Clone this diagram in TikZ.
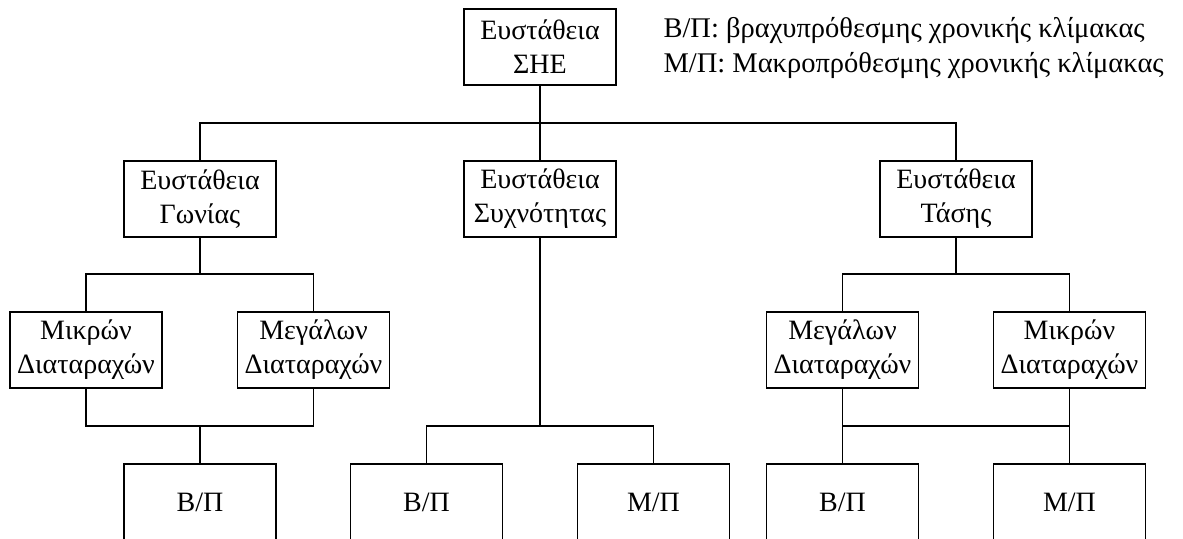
\documentclass[tikz,border=0pt]{standalone}
\usepackage{fontspec}
\setmainfont{Liberation Serif}
\begin{document}
\begin{tikzpicture}[x=1pt,y=-1pt,line width=1.1pt,
  box/.style={draw,line width=1.1pt,minimum width=152pt,minimum height=76pt,
    inner sep=0pt,align=center,font=\fontsize{28}{34}\selectfont},
  legendtext/.style={inner sep=0pt,anchor=base west,
    font=\fontsize{28.5}{35}\selectfont}]
\useasboundingbox (0,0) rectangle (1183,538);
\clip (0,0) rectangle (1183,538);

% root and first level
\node[box] (she) at (540,47) {Ευστάθεια\\ΣΗΕ};
\node[box] (gon) at (200,199) {Ευστάθεια\\Γωνίας};
\node[box] (syx) at (540,199) {Ευστάθεια\\Συχνότητας};
\node[box] (tas) at (956,199) {Ευστάθεια\\Τάσης};

% disturbance level
\node[box] (gmik) at (86,350) {Μικρών\\Διαταραχών};
\node[box] (gmeg) at (313.5,350) {Μεγάλων\\Διαταραχών};
\node[box] (tmeg) at (842.5,350) {Μεγάλων\\Διαταραχών};
\node[box] (tmik) at (1069.5,350) {Μικρών\\Διαταραχών};

% time-scale level
\node[box] (b1) at (200,502) {Β/Π};
\node[box] (b2) at (426.5,502) {Β/Π};
\node[box] (m2) at (653.5,502) {Μ/Π};
\node[box] (b3) at (842.5,502) {Β/Π};
\node[box] (m3) at (1069.5,502) {Μ/Π};

% legend
\node[legendtext] (legendB) at (663,37.5) {Β/Π: βραχυπρόθεσμης χρονικής κλίμακας};
\node[legendtext] (legendM) at (663,72.5) {Μ/Π: Μακροπρόθεσμης χρονικής κλίμακας};

% bus coordinates
\coordinate (bus0) at (540,123);
\coordinate (busg) at (200,274);
\coordinate (bust) at (956,274);
\coordinate (busgl) at (200,426);
\coordinate (busf) at (540,426);
\coordinate (bustl) at (956,426);

% root to first level
\draw (she.south) -- (syx.north);
\draw (gon.north) -- (gon.north |- bus0) -- (tas.north |- bus0) -- (tas.north);

% angle stability branch
\draw (gon.south) -- (busg);
\draw (gmik.north) -- (gmik.north |- busg) -- (gmeg.north |- busg) -- (gmeg.north);
\draw (gmik.south) -- (gmik.south |- busgl) -- (gmeg.south |- busgl) -- (gmeg.south);
\draw (busgl) -- (b1.north);

% frequency stability branch
\draw (syx.south) -- (busf);
\draw (b2.north) -- (b2.north |- busf) -- (m2.north |- busf) -- (m2.north);

% voltage stability branch
\draw (tas.south) -- (bust);
\draw (tmeg.north) -- (tmeg.north |- bust) -- (tmik.north |- bust) -- (tmik.north);
\draw (tmeg.south) -- (b3.north);
\draw (tmik.south) -- (m3.north);
\draw (tmeg.south |- bustl) -- (tmik.south |- bustl);
\end{tikzpicture}
\end{document}
